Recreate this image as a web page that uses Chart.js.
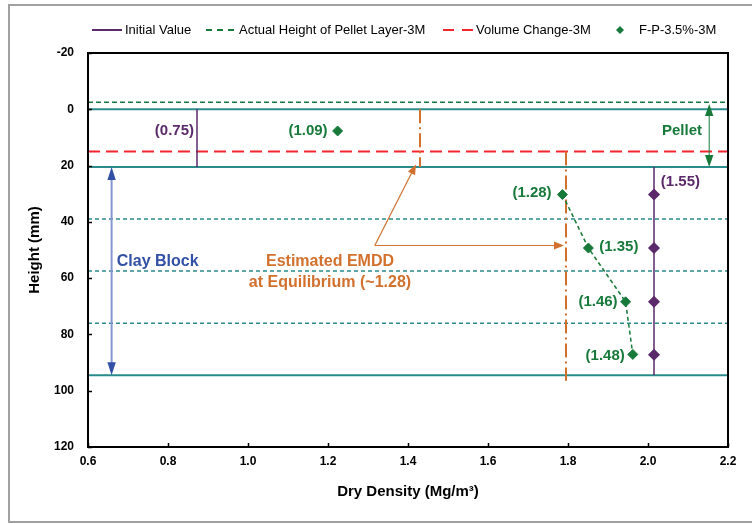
<!DOCTYPE html>
<html>
<head>
<meta charset="utf-8">
<script src="https://cdn.jsdelivr.net/npm/chart.js@4.4.0/dist/chart.umd.min.js"></script>
<style>
  html, body { margin: 0; padding: 0; background: #fff; }
  canvas { display: block; }
</style>
</head>
<body>
<canvas id="chart" width="752" height="524"></canvas>
<script>
// axes
const xMin = 0.6, xMax = 2.2, xStep = 0.2;
const yMin = -20, yMax = 120, yStep = 20;

// layer boundaries (mm)
const pelletTop = 0;
const clayTop = 20.5;
const clayLayers = [39, 57.5, 76];
const clayBottom = 94.5;
const pelletActual = -2.5;   // Actual Height of Pellet Layer-3M
const volumeChange = 15;     // Volume Change-3M

// Initial Value
const initPelletX = 0.8725;
const initClayX = 2.015;
const initClayY = [30.3, 49.3, 68.4, 87.2];
const initText = ["(0.75)", "(1.55)"];

// F-P-3.5%-3M
const fpX = [1.224, 1.786, 1.851, 1.944, 1.962];
const fpY = [7.7, 30.3, 49.3, 68.4, 87.1];
const fpText = ["(1.09)", "(1.28)", "(1.35)", "(1.46)", "(1.48)"];

// Estimated EMDD lines
const emddX = [1.43, 1.795];
const emddTopSpan = [pelletTop, clayTop];
const emddLowSpan = [volumeChange, 96.5];

const purple = '#5B2A6B';
const green = '#17793A';
const teal = '#2B8A8A';
const red = '#F52530';
const orange = '#D2702E';
const blueLine = '#8595CF';
const blue = '#3250A6';

Chart.defaults.font.family = "'Liberation Sans', Arial, sans-serif";
Chart.defaults.color = '#000';

function vline(x, span, color, width, dash) {
  return {
    data: [{x: x, y: span[0]}, {x: x, y: span[1]}],
    showLine: true, borderColor: color, borderWidth: width,
    borderDash: dash || [], pointRadius: 0
  };
}
function hline(y, color, width, dash, label) {
  const ds = vline(0, [0, 0], color, width, dash);
  ds.data = [{x: xMin, y: y}, {x: xMax, y: y}];
  if (label) ds.label = label;
  return ds;
}

const datasets = [];
// markers first so they sit on top
datasets.push({
  label: 'F-P-3.5%-3M',
  data: fpX.map((x, i) => ({x: x, y: fpY[i]})),
  showLine: false, pointStyle: 'rectRot', pointRadius: 5,
  backgroundColor: green, borderColor: green, borderWidth: 1
});
datasets.push({
  data: fpX.slice(1).map((x, i) => ({x: x, y: fpY[i + 1]})),
  showLine: true, borderColor: green, borderWidth: 1.5, borderDash: [4, 3], pointRadius: 0
});
const clayInit = vline(initClayX, [clayTop, clayBottom], purple, 1.5);
clayInit.data = [{x: initClayX, y: clayTop}]
  .concat(initClayY.map(y => ({x: initClayX, y: y})))
  .concat([{x: initClayX, y: clayBottom}]);
clayInit.pointRadius = clayInit.data.map((p, i) => (i === 0 || i === clayInit.data.length - 1) ? 0 : 5);
clayInit.pointStyle = 'rectRot';
clayInit.backgroundColor = purple;
datasets.push(clayInit);
const pelletInit = vline(initPelletX, [pelletTop, clayTop], purple, 1.5);
pelletInit.label = 'Initial Value';
datasets.push(pelletInit);
datasets.push(vline(emddX[0], emddTopSpan, orange, 2, [14, 4, 2, 4]));
datasets.push(vline(emddX[1], emddLowSpan, orange, 2, [14, 4, 2, 4]));
datasets.push(hline(volumeChange, red, 2, [12, 6], 'Volume Change-3M'));
datasets.push(hline(pelletActual, green, 1.5, [5, 3], 'Actual Height of Pellet Layer-3M'));
clayLayers.forEach(y => datasets.push(hline(y, teal, 1.5, [4, 3])));
[pelletTop, clayTop, clayBottom].forEach(y => datasets.push(hline(y, teal, 2)));

// legend order as in the figure, with the left edge of each entry
const legendOrder = ['Initial Value', 'Actual Height of Pellet Layer-3M', 'Volume Change-3M', 'F-P-3.5%-3M'];
const legendLeft = [92, 206, 443, 606];

// text and arrows placed in data units
const notes = [
  {text: initText[0], x: 0.865, y: 7.7, align: 'right', color: purple, size: 15},
  {text: fpText[0], x: 1.199, y: 7.7, align: 'right', color: green, size: 15},
  {text: 'Pellet', x: 2.085, y: 7.6, align: 'center', color: green, size: 15},
  {text: initText[1], x: 2.032, y: 25.7, align: 'left', color: purple, size: 15},
  {text: fpText[1], x: 1.759, y: 29.8, align: 'right', color: green, size: 15},
  {text: fpText[2], x: 1.878, y: 49, align: 'left', color: green, size: 15},
  {text: fpText[3], x: 1.924, y: 68.4, align: 'right', color: green, size: 15},
  {text: fpText[4], x: 1.942, y: 87.6, align: 'right', color: green, size: 15},
  {text: 'Clay Block', x: 0.672, y: 54, align: 'left', color: blue, size: 16},
  {text: 'Estimated EMDD', x: 1.205, y: 54, align: 'center', color: orange, size: 16},
  {text: 'at Equilibrium (~1.28)', x: 1.205, y: 61.7, align: 'center', color: orange, size: 16}
];
const arrows = [
  {from: [1.317, 48.4], to: [1.42, 19.6], color: orange, head: orange, width: 1.2, len: 10, half: 4},
  {from: [1.317, 48.4], to: [1.79, 48.4], color: orange, head: orange, width: 1.2, len: 10, half: 4},
  {from: [2.153, clayTop], to: [2.153, pelletActual + 0.6], color: green, head: green, width: 1, len: 12, half: 4.2, both: true},
  {from: [0.659, clayBottom], to: [0.659, clayTop], color: blueLine, head: blue, width: 2, len: 13, half: 4.2, both: true}
];

function drawHead(ctx, x1, y1, x2, y2, a) {
  const ang = Math.atan2(y2 - y1, x2 - x1);
  ctx.save();
  ctx.translate(x2, y2);
  ctx.rotate(ang);
  ctx.fillStyle = a.head;
  ctx.beginPath();
  ctx.moveTo(0, 0);
  ctx.lineTo(-a.len, -a.half);
  ctx.lineTo(-a.len, a.half);
  ctx.closePath();
  ctx.fill();
  ctx.restore();
}

const overlay = {
  id: 'overlay',
  afterDatasetsDraw(chart) {
    const ctx = chart.ctx;
    const area = chart.chartArea;
    const sx = chart.scales.x, sy = chart.scales.y;
    ctx.save();

    // arrows
    arrows.forEach(a => {
      let x1 = sx.getPixelForValue(a.from[0]), y1 = sy.getPixelForValue(a.from[1]);
      let x2 = sx.getPixelForValue(a.to[0]), y2 = sy.getPixelForValue(a.to[1]);
      const d = Math.hypot(x2 - x1, y2 - y1);
      const ux = (x2 - x1) / d, uy = (y2 - y1) / d;
      ctx.strokeStyle = a.color;
      ctx.lineWidth = a.width;
      ctx.setLineDash([]);
      ctx.beginPath();
      ctx.moveTo(x1 + (a.both ? ux * a.len * 0.8 : 0), y1 + (a.both ? uy * a.len * 0.8 : 0));
      ctx.lineTo(x2 - ux * a.len * 0.8, y2 - uy * a.len * 0.8);
      ctx.stroke();
      drawHead(ctx, x1, y1, x2, y2, a);
      if (a.both) drawHead(ctx, x2, y2, x1, y1, a);
    });

    // text labels
    ctx.textBaseline = 'middle';
    notes.forEach(n => {
      ctx.font = 'bold ' + n.size + 'px ' + Chart.defaults.font.family;
      ctx.fillStyle = n.color;
      ctx.textAlign = n.align;
      ctx.fillText(n.text, sx.getPixelForValue(n.x), sy.getPixelForValue(n.y));
    });

    // plot frame and inward ticks
    ctx.strokeStyle = '#000';
    ctx.lineWidth = 2;
    ctx.strokeRect(area.left, area.top, area.right - area.left, area.bottom - area.top);
    ctx.lineWidth = 1.5;
    ctx.beginPath();
    sx.ticks.forEach(t => {
      const px = Math.round(sx.getPixelForValue(t.value)) + 0.5;
      ctx.moveTo(px, area.bottom);
      ctx.lineTo(px, area.bottom - 4);
    });
    sy.ticks.forEach(t => {
      const py = Math.round(sy.getPixelForValue(t.value)) + 0.5;
      ctx.moveTo(area.left, py);
      ctx.lineTo(area.left + 4, py);
    });
    ctx.stroke();

    // legend
    const ly = 30;
    ctx.font = '13px ' + Chart.defaults.font.family;
    ctx.textAlign = 'left';
    legendOrder.forEach((name, i) => {
      const lx = legendLeft[i];
      const ds = chart.data.datasets.find(d => d.label === name);
      if (ds.showLine) {
        ctx.strokeStyle = ds.borderColor;
        ctx.lineWidth = 2;
        ctx.setLineDash(name === 'Initial Value' ? [] : (name.startsWith('Volume') ? [11, 8] : [6, 5]));
        ctx.beginPath();
        ctx.moveTo(lx, ly);
        ctx.lineTo(lx + 30, ly);
        ctx.stroke();
        ctx.setLineDash([]);
      } else {
        ctx.fillStyle = ds.backgroundColor;
        ctx.beginPath();
        ctx.moveTo(lx + 14, ly - 4);
        ctx.lineTo(lx + 18, ly);
        ctx.lineTo(lx + 14, ly + 4);
        ctx.lineTo(lx + 10, ly);
        ctx.closePath();
        ctx.fill();
      }
      ctx.fillStyle = '#000';
      ctx.fillText(name, lx + 33, ly);
    });

    // outer frame (left, top, bottom)
    ctx.strokeStyle = '#A0A0A0';
    ctx.lineWidth = 2;
    ctx.beginPath();
    ctx.moveTo(752, 5);
    ctx.lineTo(9, 5);
    ctx.lineTo(9, 522);
    ctx.lineTo(752, 522);
    ctx.stroke();
    ctx.restore();
  }
};

const myChart = new Chart(document.getElementById('chart'), {
  type: 'scatter',
  data: {datasets: datasets},
  options: {
    responsive: false,
    animation: false,
    devicePixelRatio: 1,
    layout: {padding: {top: 53, right: 24, bottom: 0, left: 0}},
    plugins: {legend: {display: false}, tooltip: {enabled: false}},
    scales: {
      x: {
        type: 'linear', min: xMin, max: xMax,
        afterFit: s => { s.height = 77; },
        grid: {display: false, drawTicks: false},
        border: {display: false},
        ticks: {stepSize: xStep, padding: 7, autoSkip: false, maxRotation: 0,
          font: {size: 12, weight: 'bold'}, callback: v => v.toFixed(1)},
        title: {display: true, text: 'Dry Density (Mg/m³)', font: {size: 15, weight: 'bold'},
          padding: {top: 0, bottom: 23}}
      },
      y: {
        type: 'linear', min: yMin, max: yMax, reverse: true,
        afterFit: s => { s.width = 88; },
        grid: {display: false, drawTicks: false},
        border: {display: false},
        ticks: {stepSize: yStep, padding: 14, font: {size: 12, weight: 'bold'}},
        title: {display: true, text: 'Height (mm)', font: {size: 15, weight: 'bold'},
          padding: {top: 26, bottom: 0}}
      }
    }
  },
  plugins: [overlay]
});
</script>
</body>
</html>
